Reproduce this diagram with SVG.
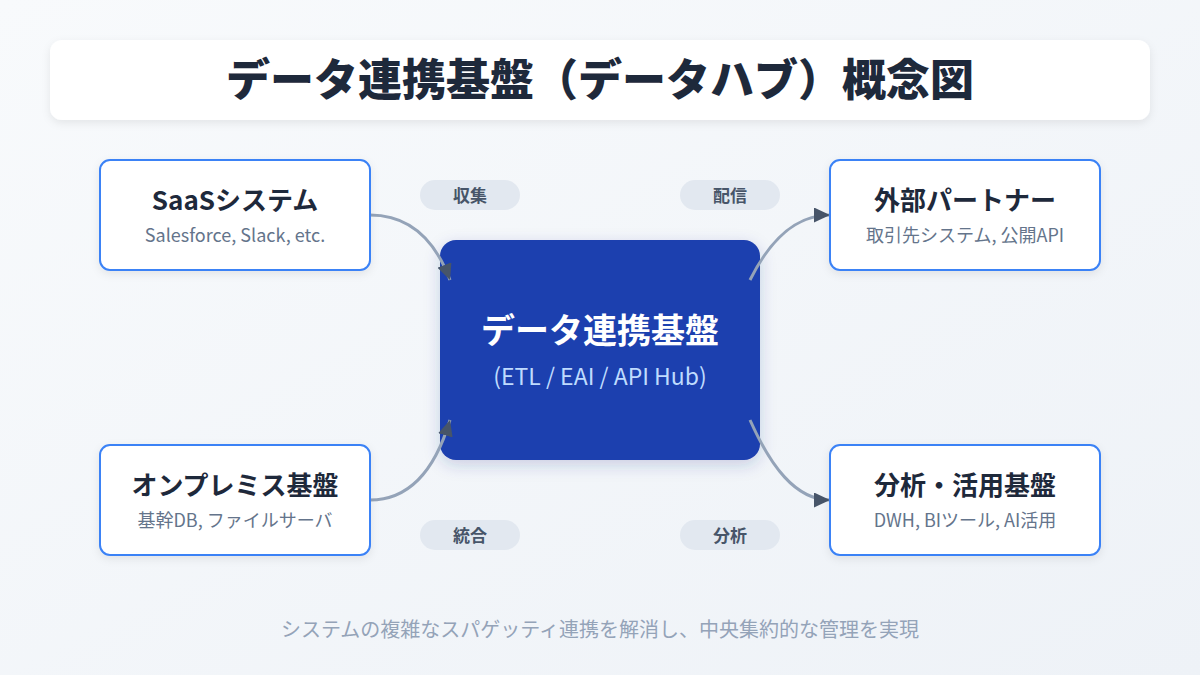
<svg xmlns="http://www.w3.org/2000/svg" width="1200" height="675" viewBox="0 0 1200 675">
<style>
text{font-family:"Noto Sans CJK JP","Noto Sans",sans-serif;text-anchor:middle}
.box{fill:#ffffff;stroke:#3b82f6;stroke-width:2}
.t{font-size:26px;font-weight:700;fill:#1e293b}
.s{font-size:18px;fill:#64748b}
.pill{fill:#e2e8f0}
.pt{font-size:17px;font-weight:700;fill:#475569}
.edge{fill:none;stroke:#94a3b8;stroke-width:3}
</style>
<defs>
<linearGradient id="bg" x1="0" y1="0" x2="1" y2="1">
<stop offset="0" stop-color="#f8fafc"/>
<stop offset="1" stop-color="#eef2f7"/>
</linearGradient>
<filter id="sh" x="-10%" y="-10%" width="120%" height="130%">
<feDropShadow dx="0" dy="3" stdDeviation="4" flood-color="#0f172a" flood-opacity="0.08"/>
</filter>
<filter id="sh2" x="-10%" y="-10%" width="120%" height="130%">
<feDropShadow dx="0" dy="5" stdDeviation="8" flood-color="#1e3a8a" flood-opacity="0.2"/>
</filter>
<marker id="arr" viewBox="0 0 16 15" refX="16" refY="7.5" markerWidth="16" markerHeight="15" markerUnits="userSpaceOnUse" orient="auto">
<path d="M0,0 L16,7.5 L0,15 Z" fill="#475569"/>
</marker>
</defs>
<rect width="1200" height="675" fill="url(#bg)"/>
<g id="title">
<rect x="50" y="40" width="1100" height="80" rx="12" fill="#ffffff" filter="url(#sh)"/>
<text x="600" y="96" style="font-size:44px;font-weight:900;fill:#1e293b">データ連携基盤（データハブ）概念図</text>
</g>
<g id="label-collect">
<rect class="pill" x="420" y="180" width="100" height="30" rx="15"/>
<text class="pt" x="470" y="202">収集</text>
</g>
<g id="label-deliver">
<rect class="pill" x="680" y="180" width="100" height="30" rx="15"/>
<text class="pt" x="730" y="202">配信</text>
</g>
<g id="label-integrate">
<rect class="pill" x="420" y="520" width="100" height="30" rx="15"/>
<text class="pt" x="470" y="542">統合</text>
</g>
<g id="label-analyze">
<rect class="pill" x="680" y="520" width="100" height="30" rx="15"/>
<text class="pt" x="730" y="542">分析</text>
</g>
<g id="hub">
<rect x="440" y="240" width="320" height="220" rx="16" fill="#1e40af" filter="url(#sh2)"/>
<text x="600" y="343" style="font-size:34px;font-weight:700;fill:#ffffff">データ連携基盤</text>
<text x="600" y="385" style="font-size:23px;fill:#bfdbfe">(ETL / EAI / API Hub)</text>
</g>
<g id="connectors">
<path class="edge" d="M370,215 C410,215 435,240 450,280" marker-end="url(#arr)"/>
<path class="edge" d="M370,500 C410,500 435,470 450,420" marker-end="url(#arr)"/>
<path class="edge" d="M750,280 C770,240 795,215 830,215" marker-end="url(#arr)"/>
<path class="edge" d="M750,420 C770,465 795,500 830,500" marker-end="url(#arr)"/>
</g>
<g id="saas">
<rect class="box" x="100" y="160" width="270" height="110" rx="10" filter="url(#sh)"/>
<text class="t" x="235" y="210">SaaSシステム</text>
<text class="s" x="235" y="242">Salesforce, Slack, etc.</text>
</g>
<g id="onprem">
<rect class="box" x="100" y="445" width="270" height="110" rx="10" filter="url(#sh)"/>
<text class="t" x="235" y="495">オンプレミス基盤</text>
<text class="s" x="235" y="527">基幹DB, ファイルサーバ</text>
</g>
<g id="partner">
<rect class="box" x="830" y="160" width="270" height="110" rx="10" filter="url(#sh)"/>
<text class="t" x="965" y="210">外部パートナー</text>
<text class="s" x="965" y="242">取引先システム, 公開API</text>
</g>
<g id="analytics">
<rect class="box" x="830" y="445" width="270" height="110" rx="10" filter="url(#sh)"/>
<text class="t" x="965" y="495">分析・活用基盤</text>
<text class="s" x="965" y="527">DWH, BIツール, AI活用</text>
</g>
<text x="600" y="637" style="font-size:20px;fill:#94a3b8">システムの複雑なスパゲッティ連携を解消し、中央集約的な管理を実現</text>
</svg>
